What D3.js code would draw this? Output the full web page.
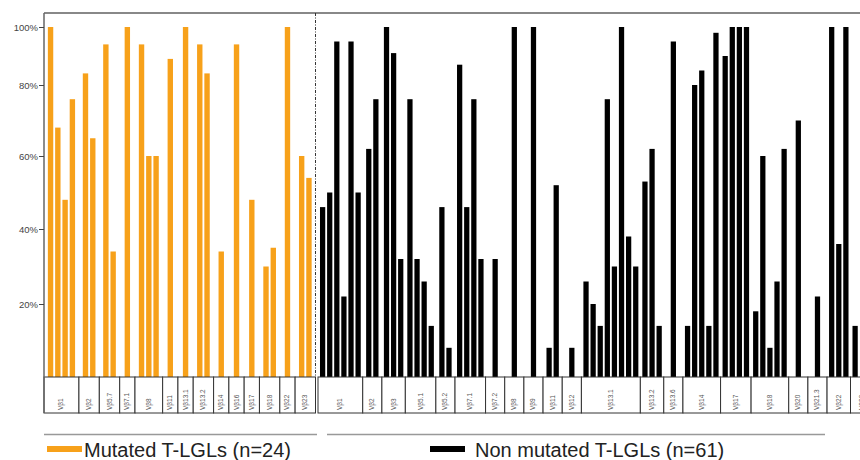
<!DOCTYPE html>
<html lang="en">
<head>
  <meta charset="UTF-8">
  <title>Vβ usage in T-LGLs</title>
  <script src="https://d3js.org/d3.v7.min.js"></script>
  <style>
    body { margin: 0; background: #fff; }
    svg { display: block; font-family: "Liberation Sans", Arial, sans-serif; }
  </style>
</head>
<body>
  <script>
    // Mutated T-LGLs: one array of patient values per Vβ family
    const mutFamilies = ["Vβ1", "Vβ2", "Vβ5.7", "Vβ7.1", "Vβ8", "Vβ11", "Vβ13.1", "Vβ13.2",
                         "Vβ14", "Vβ16", "Vβ17", "Vβ18", "Vβ22", "Vβ23"];
    const mutValues = [[100, 68, 48, 76], [84, 65], [94, 34], [100], [94, 60, 60], [89], [100],
                       [94, 84], [34], [94], [48], [30, 35], [100], [60, 54]];

    // Non mutated T-LGLs (last two patients fall outside the picture)
    const nonFamilies = ["Vβ1", "Vβ2", "Vβ3", "Vβ5.1", "Vβ5.2", "Vβ7.1", "Vβ7.2", "Vβ8", "Vβ9",
                         "Vβ11", "Vβ12", "Vβ13.1", "Vβ13.2", "Vβ13.6", "Vβ14", "Vβ17", "Vβ18",
                         "Vβ20", "Vβ21.3", "Vβ22", "Vβ23"];
    const nonValues = [[46, 50, 95, 22, 95, 50], [62, 76], [100, 91, 32], [76, 32, 26, 14], [46, 8],
                       [87, 46, 76, 32], [32], [100], [100], [8, 52], [8],
                       [26, 20, 14, 76, 30, 100, 38, 30], [53, 62, 14], [95], [14, 80, 85, 14, 98],
                       [90, 100, 100, 100], [18, 60, 8, 26, 62], [70], [22], [100, 36, 100],
                       [14, null, null]];

    const yTicks = [20, 40, 60, 80, 100];
    const legendLabels = ["Mutated T-LGLs (n=24)", "Non mutated T-LGLs (n=61)"];

    const width = 860, height = 460;
    const plotLeft = 44, plotTop = 13, base = 377, boxBottom = 413, split = 315.5;

    const svg = d3.select("body").append("svg")
      .attr("width", width)
      .attr("height", height);

    // the source axis is not quite evenly spaced, so map through its tick positions
    const y = d3.scaleLinear()
      .domain([0, 20, 40, 60, 80, 100])
      .range([base, 304, 229, 156, 85, 27]);

    function layout(families, values, pad, minSlots) {
      let cum = 0;
      const groups = families.map((f, i) => {
        const n = values[i].length;
        const w = Math.max(n + pad, minSlots);
        const g = { label: f, values: values[i], start: cum, w: w, off: (w - n) / 2 };
        cum += w;
        return g;
      });
      return { groups, total: cum };
    }

    const mutLay = layout(mutFamilies, mutValues, 0.8, 2.1);
    const nonLay = layout(nonFamilies, nonValues, 0.3, 2.7);

    const xMut = d3.scaleLinear().domain([0, mutLay.total]).range([plotLeft, split]);
    const xNon = d3.scaleLinear().domain([0, nonLay.total]).range([318, 318 + nonLay.total * 7.1]);

    function drawSide(lay, x, color) {
      const unit = x(1) - x(0);
      const bw = unit * 0.74;
      const bars = [];
      lay.groups.forEach(g => g.values.forEach((v, j) => {
        if (v != null) bars.push({ v, c: g.start + g.off + j + 0.5 });
      }));

      svg.append("g").selectAll("rect")
        .data(bars)
        .join("rect")
        .attr("x", d => x(d.c) - bw / 2)
        .attr("y", d => y(d.v))
        .attr("width", bw)
        .attr("height", d => y(0) - y(d.v))
        .attr("fill", color);

      const box = svg.append("g").selectAll("g")
        .data(lay.groups)
        .join("g");

      box.append("rect")
        .attr("x", d => x(d.start))
        .attr("y", base)
        .attr("width", d => x(d.start + d.w) - x(d.start))
        .attr("height", boxBottom - base)
        .attr("fill", "#fff")
        .attr("stroke", "#333")
        .attr("stroke-width", 1);

      box.append("text")
        .attr("transform", d => `translate(${x(d.start + d.w / 2) + 2},410) rotate(-90)`)
        .attr("font-size", 6.5)
        .attr("fill", "#555")
        .text(d => d.label);
    }

    drawSide(mutLay, xMut, "#f7a11a");
    drawSide(nonLay, xNon, "#000");

    // frame
    svg.append("line")
      .attr("x1", plotLeft).attr("x2", width)
      .attr("y1", plotTop).attr("y2", plotTop)
      .attr("stroke", "#888").attr("stroke-width", 2);

    svg.append("line")
      .attr("x1", plotLeft).attr("x2", plotLeft)
      .attr("y1", plotTop).attr("y2", boxBottom)
      .attr("stroke", "#666").attr("stroke-width", 1.5);

    svg.append("line")
      .attr("x1", split).attr("x2", split)
      .attr("y1", plotTop).attr("y2", boxBottom)
      .attr("stroke", "#333")
      .attr("stroke-dasharray", "3,1.5,1,1.5");

    const yAxis = svg.append("g")
      .attr("transform", `translate(${plotLeft},0)`)
      .call(d3.axisLeft(y).tickValues(yTicks).tickFormat(d => d + "%").tickSize(5).tickPadding(1));
    yAxis.select(".domain").remove();
    yAxis.selectAll(".tick line").attr("stroke", "#444");
    yAxis.selectAll(".tick text")
      .attr("font-size", 9.5)
      .attr("fill", "#444")
      .attr("font-family", "Liberation Sans, Arial, sans-serif");

    // legend
    const legendLines = [[plotLeft, 317], [327, 825]];
    svg.append("g").selectAll("line")
      .data(legendLines)
      .join("line")
      .attr("x1", d => d[0]).attr("x2", d => d[1])
      .attr("y1", 434.5).attr("y2", 434.5)
      .attr("stroke", "#999").attr("stroke-width", 1.5);

    const legend = svg.append("g").selectAll("g")
      .data(legendLabels.map((t, i) => ({ t, i })))
      .join("g")
      .attr("transform", d => `translate(${d.i === 0 ? 47 : 430},0)`);

    legend.append("rect")
      .attr("x", 0).attr("y", 446)
      .attr("width", 35).attr("height", 6)
      .attr("fill", d => d.i === 0 ? "#f7a11a" : "#000");

    legend.append("text")
      .attr("x", d => d.i === 0 ? 37 : 45)
      .attr("y", 457)
      .attr("font-size", 20)
      .attr("fill", "#222")
      .text(d => d.t);
  </script>
</body>
</html>
